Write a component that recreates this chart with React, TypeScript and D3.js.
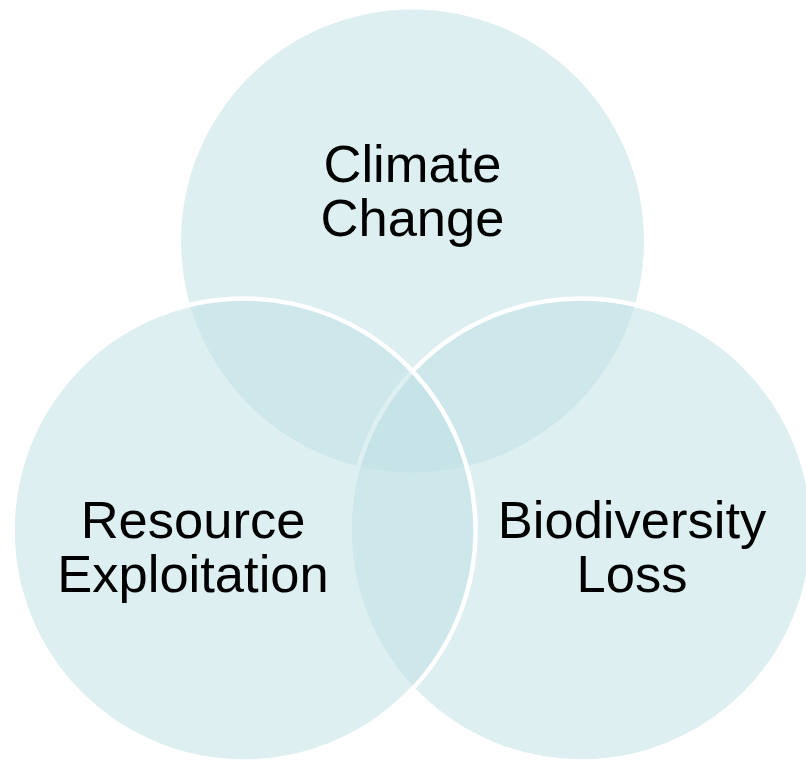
import React, { useEffect, useRef } from 'react';
import * as d3 from 'd3';

// Venn sets, in the order they are painted (later ones sit on top)
const sets = ['Climate Change', 'Biodiversity Loss', 'Resource Exploitation'];
const labelLines = [
  ['Climate', 'Change'],
  ['Biodiversity', 'Loss'],
  ['Resource', 'Exploitation'],
];
const hasOutline = [false, true, true];

const WIDTH = 806;
const HEIGHT = 762;

const App = () => {
  const ref = useRef<SVGSVGElement>(null);

  useEffect(() => {
    const radius = 231.5;
    const midX = 412.5;
    const spread = 168.5;
    const topY = 241;
    const lowY = 530;

    // circle centres for each set
    const centres: Record<string, [number, number]> = {
      'Climate Change': [midX, topY],
      'Biodiversity Loss': [midX + spread, lowY],
      'Resource Exploitation': [midX - spread, lowY],
    };
    // where the text block sits relative to the centre (first baseline)
    const labelAnchor: Record<string, [number, number]> = {
      'Climate Change': [0, -59],
      'Biodiversity Loss': [51, 8],
      'Resource Exploitation': [-51, 8],
    };

    const svg = d3.select(ref.current);
    svg.selectAll('*').remove();

    const data = sets.map((name, i) => ({
      name,
      lines: labelLines[i],
      outline: hasOutline[i],
      c: centres[name],
    }));

    svg.append('g')
      .selectAll('circle')
      .data(data)
      .enter()
      .append('circle')
      .attr('cx', d => d.c[0])
      .attr('cy', d => d.c[1])
      .attr('r', radius)
      .attr('fill', 'rgb(189,223,227)')
      .attr('fill-opacity', 0.5)
      .attr('stroke', d => (d.outline ? '#ffffff' : 'none'))
      .attr('stroke-width', 4.5);

    const fontSize = 52.5;
    const lineHeight = 54;

    const labels = svg.append('g')
      .selectAll('text')
      .data(data)
      .enter()
      .append('text')
      .attr('transform', d => {
        const a = labelAnchor[d.name];
        return `translate(${d.c[0] + a[0]},${d.c[1] + a[1]})`;
      })
      .attr('text-anchor', 'middle')
      .style('font-family', '"Liberation Sans", Arial, sans-serif')
      .style('font-size', `${fontSize}px`)
      .style('fill', '#000000');

    labels.selectAll('tspan')
      .data(d => d.lines)
      .enter()
      .append('tspan')
      .attr('x', 0)
      .attr('y', (_, i) => i * lineHeight)
      .text(d => d);
  }, []);

  return (
    <svg
      ref={ref}
      width={WIDTH}
      height={HEIGHT}
      style={{ position: 'absolute', left: 0, top: 0, background: '#ffffff' }}
    />
  );
};

export default App;
